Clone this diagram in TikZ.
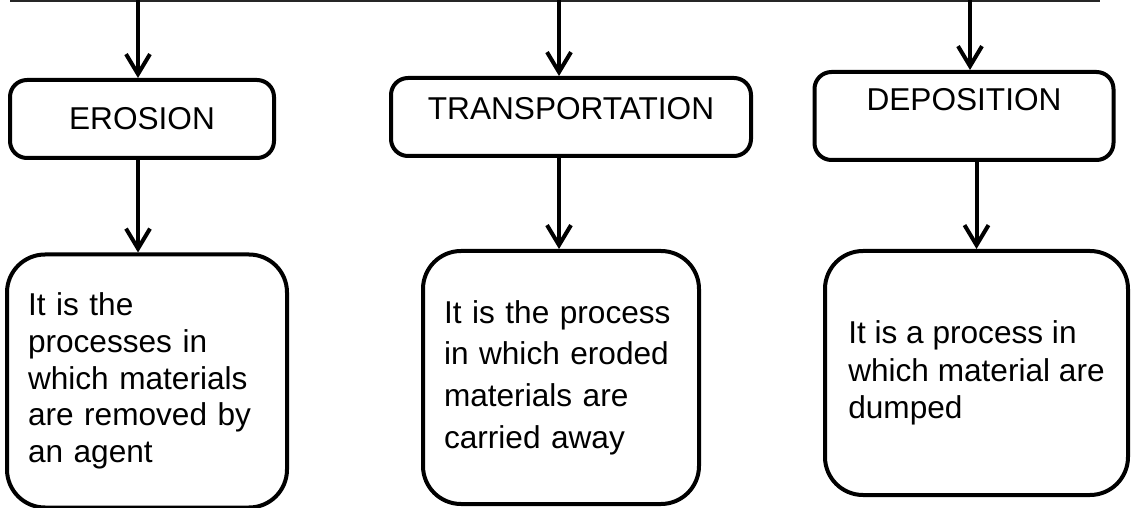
\documentclass[tikz,border=0pt]{standalone}
\usepackage{fontspec}
\setmainfont{Liberation Sans}
\usetikzlibrary{arrows.meta}
\begin{document}
\begin{tikzpicture}[x=0.5pt,y=-0.5pt,
  headbox/.style={draw=black, line width=2pt, rounded corners=8.5pt, fill=white,
    inner sep=0pt, font=\fontsize{15.8}{18.5}\selectfont},
  descbox/.style={draw=black, line width=2pt, rounded corners=19pt, fill=white,
    inner sep=0pt, align=left},
  arr/.style={line width=2pt, -{Straight Barb[length=10pt,width=12pt,line width=2pt]}},
  topline/.style={line width=1.8pt, black!85}]
\useasboundingbox (0,0) rectangle (1132,508);

% cut-off parent box bottom edge
\coordinate (L) at (10,0);
\coordinate (R) at (1100,0);
\draw[topline] (L) -- (R);
\coordinate (a1) at (138,0);
\coordinate (a2) at (559,0);
\coordinate (a3) at (970,0);

% process boxes
\node[headbox, minimum width=132pt, minimum height=39pt] (e1) at (142,119) {EROSION};
\node[headbox, minimum width=180pt, minimum height=39pt, text depth=9pt] (e2) at (571,117) {TRANSPORTATION};
\node[headbox, minimum width=149.5pt, minimum height=44pt, text depth=17pt] (e3) at (964,116) {DEPOSITION};

% description boxes
\node[descbox, minimum width=140pt, minimum height=126.5pt, text width=119pt,
  font=\fontsize{15.8}{18.4}\selectfont] (d1) at (147,381)
  {It is the\\processes in\\which materials\\are removed by\\an agent};
\node[descbox, minimum width=138pt, minimum height=126.5pt, text width=117pt,
  font=\fontsize{15.8}{20.8}\selectfont] (d2) at (561,377.5)
  {It is the process\\in which eroded\\materials are\\carried away};
\node[descbox, minimum width=151.5pt, minimum height=122pt,
  font=\fontsize{15.8}{18.6}\selectfont] (d3) at (976.5,373)
  {It is a process in\\which material are\\dumped};

% arrows
\draw[arr] (a1) -- (a1 |- e1.north);
\draw[arr] (a2) -- (a2 |- e2.north);
\draw[arr] (a3) -- (a3 |- e3.north);
\draw[arr] (a1 |- e1.south) -- (a1 |- d1.north);
\draw[arr] (a2 |- e2.south) -- (a2 |- d2.north);
\draw[arr] (d3.north |- e3.south) -- (d3.north);
\end{tikzpicture}
\end{document}
